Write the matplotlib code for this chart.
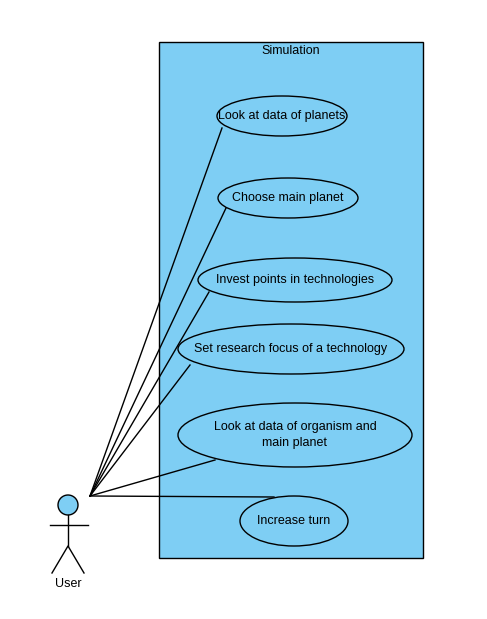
import matplotlib.pyplot as plt
from matplotlib.patches import Ellipse, Rectangle, Circle

# use case labels (top to bottom)
use_cases = [
    "Look at data of planets",
    "Choose main planet",
    "Invest points in technologies",
    "Set research focus of a technology",
    "Look at data of organism and\nmain planet",
    "Increase turn",
]
system_name = "Simulation"
actor_name = "User"

# geometry in pixels: center x, center y, width, height
shapes = [
    (282, 116, 130, 40),
    (288, 198, 140, 40),
    (295, 280, 194, 44),
    (291, 349, 226, 50),
    (295, 435, 234, 64),
    (294, 521, 108, 50),
]
# where each association line meets its ellipse
ends = [(222, 128), (226, 208), (209, 292), (190, 365), (215, 460), (274, 497)]

fig = plt.figure(figsize=(4.87, 6.19), dpi=100)
ax = fig.add_axes([0, 0, 1, 1])
ax.set_xlim(0, 487)
ax.set_ylim(619, 0)
ax.axis("off")

blue = "#7ECEF4"
ax.add_patch(Rectangle((159, 42), 264, 516, facecolor=blue, edgecolor="black", lw=1))
ax.text(291, 51, system_name, ha="center", va="center", fontsize=9, family="Liberation Sans")

for (cx, cy, w, h), label in zip(shapes, use_cases):
    ax.add_patch(Ellipse((cx, cy), w, h, facecolor=blue, edgecolor="black", lw=1, zorder=3))
    ax.text(cx, cy, label, ha="center", va="center", fontsize=9,
            family="Liberation Sans", linespacing=1.5, zorder=4)

for ex, ey in ends:
    ax.plot([90, ex], [496, ey], color="black", lw=1, zorder=2)

# actor
ax.add_patch(Circle((68, 505), 10, facecolor=blue, edgecolor="black", lw=1))
ax.plot([68, 68], [515, 546], color="black", lw=1)
ax.plot([50, 88], [525, 525], color="black", lw=1)
ax.plot([52, 68, 84], [573, 546, 573], color="black", lw=1)
ax.text(68, 584, actor_name, ha="center", va="center", fontsize=9, family="Liberation Sans")

fig.savefig("out.png", dpi=100, facecolor="white")
